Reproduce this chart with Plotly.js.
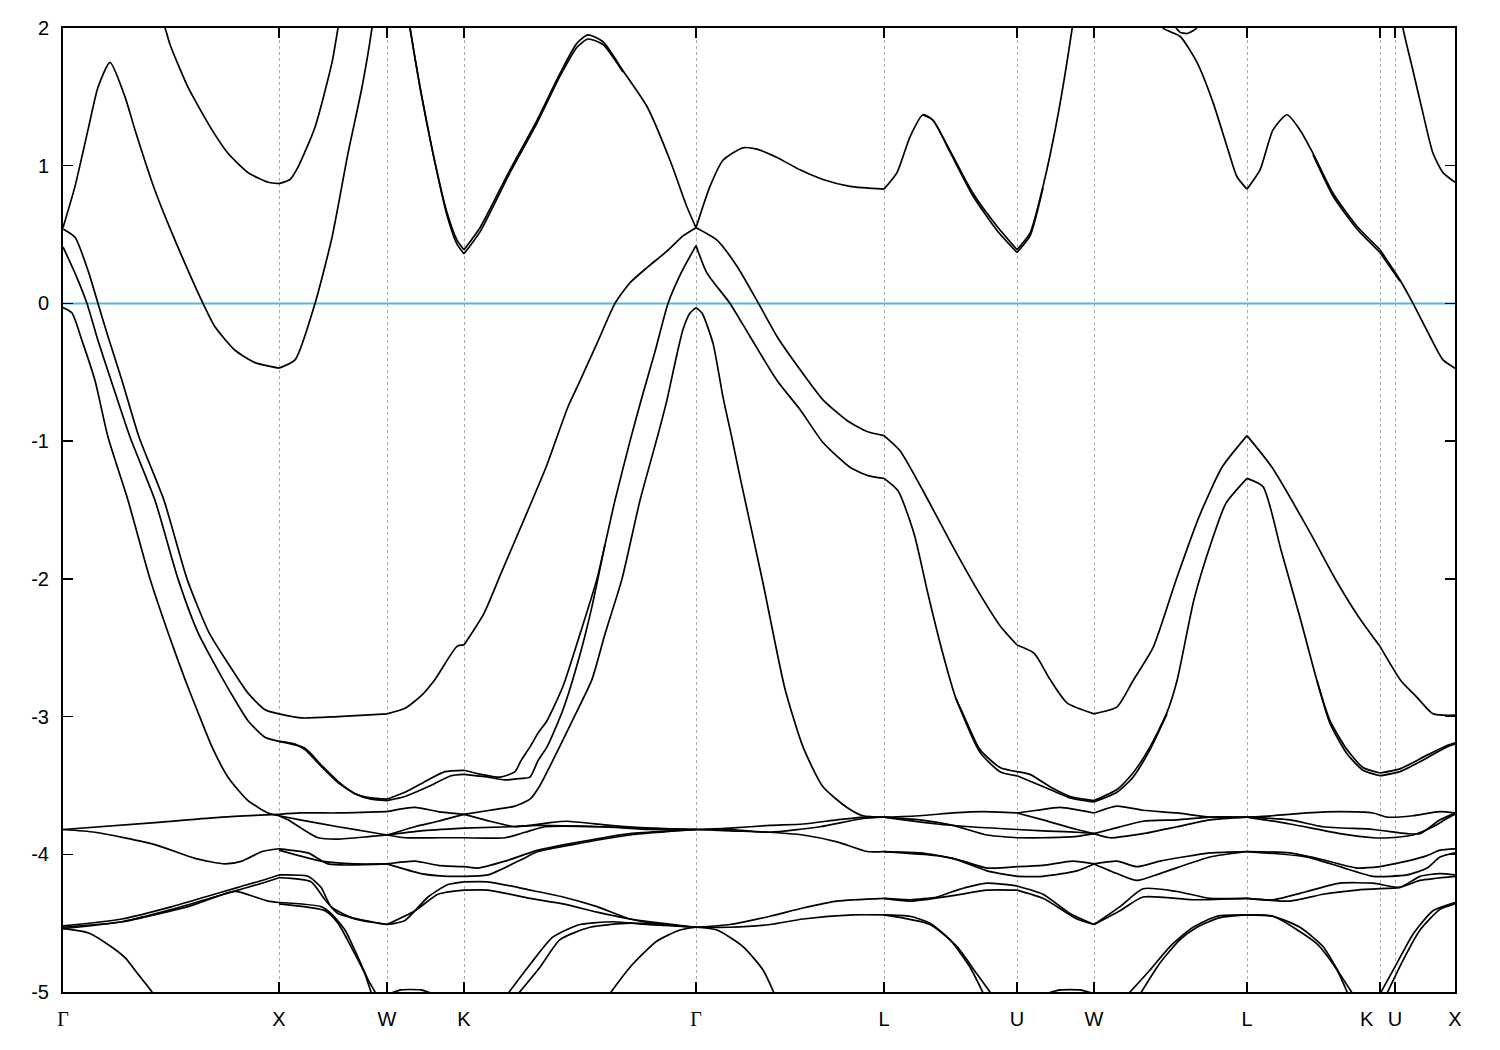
<!DOCTYPE html>
<html>
<head>
<meta charset="utf-8">
<script src="https://cdn.plot.ly/plotly-3.0.1.min.js"></script>
<style>html,body{margin:0;padding:0;background:#fff;}#plot{width:1500px;height:1050px;}</style>
</head>
<body>
<div id="plot"></div>
<script>
// High-symmetry points along the k-path (path length, arbitrary units)
const tickK = [0, 2.16, 3.24, 4.01, 6.33, 8.21, 9.54, 10.31, 11.84, 13.17, 13.32, 13.92];
const tickLabels = ["Γ", "X", "W", "K", "Γ", "L", "U", "W", "L", "K", "U", "X"];
const energyTicks = [-5, -4, -3, -2, -1, 0, 1, 2];
const energyTickText = ["-5", "-4", "-3", "-2", "-1", "0", "1", "2"];
const fermiK = [0, 13.92];
const fermiE = [0, 0];

// Conduction bands
const cbA_k = [0.97,1.02,1.07,1.25,1.49,1.65,1.85,2.05,2.16,2.27,2.35,2.52,2.69,2.75,2.78];
const cbA_E = [2.06,2.0,1.88,1.57,1.26,1.09,0.95,0.88,0.87,0.90,0.99,1.28,1.75,2.0,2.12];
const cbB_k = [0,0.12,0.25,0.35,0.47,0.62,0.72,0.92,1.09,1.25,1.40,1.52,1.72,1.92,2.16,2.32,2.52,2.69,2.85,2.99,3.09,3.11];
const cbB_E = [0.55,0.85,1.26,1.57,1.75,1.50,1.26,0.82,0.51,0.24,0.0,-0.17,-0.34,-0.43,-0.47,-0.41,0.0,0.48,1.09,1.57,2.0,2.12];
const cbC_k = [3.45,3.47,3.57,3.70,3.84,3.94,4.01,4.17,4.47,4.74,4.97,5.14,5.25,5.40,5.60,5.84,6.07,6.24,6.33,6.47,6.60,6.80,6.94,7.14,7.37,7.60,7.87,8.21,8.34,8.47,8.60,8.70,8.87,9.10,9.34,9.54,9.67,9.80,9.94,10.09,10.11];
const cbC_E = [2.1,2.0,1.57,1.09,0.66,0.46,0.39,0.55,0.97,1.33,1.67,1.89,1.95,1.90,1.69,1.43,1.04,0.70,0.55,0.85,1.04,1.13,1.12,1.06,0.97,0.90,0.85,0.83,0.95,1.21,1.37,1.33,1.11,0.80,0.56,0.39,0.51,0.85,1.33,1.99,2.1];
const cbC2_k = [3.45,3.47,3.57,3.70,3.84,3.94,4.01,4.17,4.47,4.74,4.97,5.14,5.25,5.40,5.60];
const cbC2_E = [2.1,2.0,1.57,1.09,0.64,0.43,0.36,0.52,0.95,1.31,1.65,1.86,1.92,1.88,1.68];
const cbC3_k = [8.60,8.70,8.87,9.10,9.34,9.54,9.67,9.80];
const cbC3_E = [1.37,1.33,1.10,0.78,0.53,0.37,0.49,0.84];
const cbD_k = [10.97,11.00,11.17,11.34,11.50,11.64,11.74,11.84,11.97,12.10,12.24,12.37,12.50,12.70,12.94,13.17,13.37,13.50,13.67,13.80,13.92];
const cbD_E = [2.1,2.0,1.94,1.75,1.46,1.14,0.92,0.83,0.97,1.26,1.37,1.26,1.09,0.80,0.56,0.39,0.17,0.0,-0.24,-0.41,-0.47];
const cbD2_k = [12.50,12.70,12.94,13.17,13.37];
const cbD2_E = [1.08,0.78,0.54,0.37,0.16];
const cbE_k = [13.39,13.40,13.50,13.60,13.70,13.80,13.92];
const cbE_E = [2.1,2.0,1.69,1.38,1.09,0.95,0.88];
const cbLoop_k = [11.13,11.17,11.24,11.30,11.34];
const cbLoop_E = [2.0,1.97,1.96,1.98,2.0];

// Valence bands
const vbC_k = [0,0.12,0.25,0.35,0.45,0.59,0.76,1.01,1.24,1.46,1.71,1.85,2.02,2.16,2.39,2.75,3.24,3.42,3.58,3.72,3.94,4.01,4.21,4.38,4.61,4.83,5.05,5.14,5.34,5.52,5.67,5.84,6.04,6.20,6.33,6.54,6.74,6.94,7.14,7.37,7.60,7.84,8.04,8.21,8.37,8.60,8.88,9.16,9.38,9.54,9.71,9.87,10.04,10.31,10.54,10.70,10.90,11.13,11.36,11.59,11.84,12.09,12.46,12.73,12.96,13.17,13.38,13.54,13.70,13.92];
const vbC_E = [0.54,0.48,0.24,0.0,-0.24,-0.56,-0.97,-1.43,-2.0,-2.39,-2.68,-2.83,-2.95,-2.98,-3.01,-3.00,-2.98,-2.94,-2.85,-2.73,-2.49,-2.48,-2.25,-1.96,-1.57,-1.19,-0.75,-0.61,-0.29,0.0,0.15,0.26,0.38,0.49,0.55,0.46,0.27,0.02,-0.24,-0.48,-0.70,-0.85,-0.93,-0.96,-1.07,-1.36,-1.74,-2.10,-2.35,-2.48,-2.54,-2.73,-2.90,-2.98,-2.93,-2.74,-2.50,-2.01,-1.55,-1.19,-0.96,-1.19,-1.65,-2.01,-2.28,-2.49,-2.74,-2.86,-2.98,-2.99];
const vbD_k = [0,0.12,0.24,0.35,0.49,0.67,0.92,1.15,1.35,1.60,1.72,1.85,2.02,2.16,2.32,2.42,2.58,2.75,2.92,3.08,3.24,3.42,3.65,3.82,4.01,4.18,4.37,4.52,4.58,4.67,4.75,4.84,5.00,5.17,5.34,5.52,5.67,5.79,5.92,6.05,6.18,6.33,6.44,6.67,6.87,7.14,7.37,7.60,7.87,8.05,8.21,8.35,8.51,8.65,8.79,8.93,9.00,9.17,9.37,9.54,9.67,9.87,10.07,10.31,10.54,10.70,10.87,11.04,11.14,11.31,11.49,11.63,11.84,12.00,12.18,12.37,12.54,12.67,12.84,13.00,13.17,13.37,13.64,13.84,13.92];
const vbD_E = [0.41,0.22,0.0,-0.27,-0.58,-0.97,-1.43,-2.0,-2.39,-2.73,-2.88,-3.03,-3.15,-3.18,-3.20,-3.24,-3.36,-3.48,-3.56,-3.59,-3.60,-3.55,-3.46,-3.40,-3.39,-3.42,-3.44,-3.40,-3.32,-3.22,-3.12,-3.03,-2.78,-2.40,-2.0,-1.43,-1.0,-0.68,-0.35,0.0,0.22,0.42,0.22,0.0,-0.24,-0.56,-0.77,-1.01,-1.19,-1.25,-1.27,-1.36,-1.67,-2.11,-2.52,-2.87,-2.98,-3.24,-3.37,-3.40,-3.42,-3.51,-3.58,-3.61,-3.53,-3.41,-3.22,-2.97,-2.74,-2.15,-1.72,-1.45,-1.27,-1.33,-1.79,-2.28,-2.74,-3.03,-3.24,-3.37,-3.41,-3.38,-3.28,-3.21,-3.19];
const vbD2_k = [2.16,2.42,2.58,2.75,2.92,3.08,3.24,3.42,3.65,3.88,4.01,4.25,4.42,4.57,4.67,4.75,4.84,5.00,5.17,5.29,5.42];
const vbD2_E = [-3.18,-3.23,-3.35,-3.47,-3.56,-3.60,-3.61,-3.58,-3.51,-3.43,-3.42,-3.44,-3.46,-3.45,-3.44,-3.32,-3.22,-2.95,-2.55,-2.20,-1.75];
const vbD3_k = [8.93,9.17,9.37,9.54,9.87,10.07,10.31,10.54,10.70,10.87,11.04];
const vbD3_E = [-2.87,-3.26,-3.40,-3.43,-3.53,-3.59,-3.62,-3.55,-3.44,-3.24,-2.98];
const vbD4_k = [12.54,12.67,12.84,13.00,13.17,13.37,13.64,13.84,13.92];
const vbD4_E = [-2.74,-3.05,-3.27,-3.39,-3.43,-3.40,-3.30,-3.22,-3.20];
const vbE_k = [0,0.09,0.19,0.32,0.45,0.65,0.87,1.05,1.22,1.35,1.49,1.65,1.85,2.05,2.16,2.37,2.75,3.08,3.24,3.52,3.75,4.01,4.27,4.52,4.67,4.77,4.87,5.10,5.29,5.42,5.59,5.77,5.94,6.04,6.13,6.20,6.27,6.33,6.39,6.50,6.60,6.69,6.77,7.00,7.22,7.40,7.60,7.84,8.00,8.21];
const vbE_E = [-0.03,-0.07,-0.27,-0.56,-0.97,-1.43,-2.0,-2.39,-2.73,-2.97,-3.22,-3.44,-3.61,-3.70,-3.72,-3.75,-3.80,-3.84,-3.86,-3.80,-3.76,-3.71,-3.68,-3.65,-3.60,-3.50,-3.36,-3.02,-2.73,-2.40,-2.0,-1.43,-0.98,-0.70,-0.40,-0.19,-0.07,-0.03,-0.07,-0.29,-0.68,-0.98,-1.26,-2.03,-2.80,-3.22,-3.51,-3.66,-3.72,-3.73];

// d-band manifold (-3.6 ... -5 eV)
const dF1_k = [0,0.92,1.59,2.16,2.37,2.75,3.24,3.52,3.75,4.01,4.27,4.52,4.67,4.87,5.04,5.47,5.87,6.33];
const dF1_E = [-3.82,-3.77,-3.73,-3.71,-3.70,-3.70,-3.69,-3.66,-3.69,-3.71,-3.76,-3.80,-3.79,-3.77,-3.76,-3.79,-3.81,-3.82];
const dF3_k = [2.16,2.25,2.38,2.55,2.75,3.08,3.24,3.42,3.77,4.01,4.42,4.62,4.82,5.37,5.87,6.33];
const dF3_E = [-3.72,-3.75,-3.81,-3.88,-3.89,-3.87,-3.86,-3.88,-3.88,-3.88,-3.88,-3.84,-3.80,-3.80,-3.82,-3.82];
const dF4_k = [3.24,3.58,4.01,4.47,4.75,5.37,6.33];
const dF4_E = [-3.86,-3.83,-3.81,-3.80,-3.79,-3.80,-3.82];
const dG1_k = [0,0.32,0.92,1.32,1.62,1.79,1.99,2.16,2.45,2.65,3.24,3.52,3.75,4.01,4.15,4.42,4.75,5.17,5.67,6.07,6.33];
const dG1_E = [-3.82,-3.84,-3.93,-4.03,-4.07,-4.05,-3.98,-3.96,-3.99,-4.07,-4.07,-4.05,-4.08,-4.09,-4.10,-4.05,-3.97,-3.91,-3.85,-3.83,-3.82];
const dG2_k = [2.16,2.58,2.92,3.24,3.58,3.85,4.01,4.25,4.58,4.75,5.17,5.67,6.33];
const dG2_E = [-3.97,-4.05,-4.07,-4.07,-4.14,-4.16,-4.16,-4.15,-4.04,-3.98,-3.92,-3.86,-3.82];
const dH1_k = [0,0.59,1.09,1.42,1.75,1.99,2.16,2.45,2.58,2.68,2.92,3.24,3.42,3.65,3.85,4.01,4.25,4.67,5.00,5.34,5.67,6.00,6.33];
const dH1_E = [-4.52,-4.47,-4.38,-4.31,-4.24,-4.19,-4.15,-4.16,-4.24,-4.38,-4.47,-4.51,-4.48,-4.31,-4.22,-4.20,-4.20,-4.26,-4.31,-4.38,-4.47,-4.51,-4.53];
const dH2_k = [0,0.59,1.09,1.42,1.75,1.99,2.16,2.48,2.62,2.75,3.24,3.52,3.75,4.01,4.25,4.67,5.00,5.34,5.67,6.33];
const dH2_E = [-4.53,-4.49,-4.40,-4.33,-4.26,-4.21,-4.17,-4.20,-4.33,-4.43,-4.51,-4.41,-4.29,-4.26,-4.26,-4.32,-4.36,-4.42,-4.47,-4.53];
const dI1_k = [0,0.59,1.25,1.72,1.92,2.05,2.16,2.58,2.68,2.82,2.92,3.05,3.12,3.15];
const dI1_E = [-4.54,-4.49,-4.38,-4.27,-4.31,-4.34,-4.35,-4.38,-4.43,-4.55,-4.70,-4.91,-5.0,-5.05];
const dI2_k = [2.16,2.62,2.75,2.88,3.02,3.08,3.11];
const dI2_E = [-4.36,-4.41,-4.50,-4.67,-4.87,-5.0,-5.05];
const dJ_k = [0,0.25,0.42,0.62,0.75,0.89,0.92];
const dJ_E = [-4.54,-4.57,-4.64,-4.75,-4.87,-5.0,-5.05];
const dWb1_k = [3.24,3.38,3.58,3.72];
const dWb1_E = [-5.02,-4.985,-4.985,-5.02];
const dP1_k = [4.42,4.67,4.90,5.17,5.50,5.84,6.33];
const dP1_E = [-5.04,-4.80,-4.60,-4.51,-4.49,-4.51,-4.53];
const dP2_k = [4.52,4.77,4.97,5.27,5.67,6.33];
const dP2_E = [-5.04,-4.82,-4.62,-4.53,-4.50,-4.53];
const dPar_k = [5.44,5.67,5.94,6.17,6.33,6.54,6.80,7.00,7.13];
const dPar_E = [-5.04,-4.82,-4.63,-4.55,-4.53,-4.55,-4.67,-4.84,-5.04];
const dQ1_k = [6.33,6.67,7.07,7.40,7.74,8.00,8.21];
const dQ1_E = [-3.82,-3.81,-3.79,-3.78,-3.75,-3.73,-3.73];
const dQ1b_k = [6.33,6.67,7.07,7.57,8.00,8.21];
const dQ1b_E = [-3.82,-3.82,-3.84,-3.80,-3.74,-3.73];
const dQ2_k = [6.33,6.67,7.07,7.40,7.74,8.04,8.21];
const dQ2_E = [-3.82,-3.83,-3.84,-3.86,-3.91,-3.98,-3.98];
const dR1_k = [6.33,6.67,7.07,7.40,7.74,8.21];
const dR1_E = [-4.53,-4.51,-4.45,-4.39,-4.34,-4.32];
const dR2_k = [6.33,6.67,7.07,7.40,7.90,8.21];
const dR2_E = [-4.53,-4.53,-4.51,-4.47,-4.44,-4.44];
const dS1_k = [8.21,8.57,8.90,9.20,9.54,9.74,9.97,10.31,10.54,10.80,11.14,11.47,11.84,12.10,12.44,12.77,13.10,13.24,13.50,13.77,13.92];
const dS1_E = [-3.73,-3.72,-3.70,-3.69,-3.70,-3.68,-3.66,-3.70,-3.65,-3.68,-3.70,-3.73,-3.73,-3.72,-3.70,-3.69,-3.70,-3.73,-3.72,-3.69,-3.70];
const dS2_k = [8.21,8.57,8.90,9.24,9.54,9.80,10.14,10.31,10.47,10.80,11.14,11.47,11.84,12.27,12.60,13.10,13.44,13.57,13.77,13.92];
const dS2_E = [-3.73,-3.75,-3.79,-3.86,-3.88,-3.88,-3.87,-3.85,-3.82,-3.76,-3.75,-3.73,-3.73,-3.75,-3.80,-3.82,-3.85,-3.85,-3.75,-3.70];
const dS3_k = [9.54,9.80,10.14,10.31,10.47,10.80,11.14,11.47,11.84,12.27,12.77,13.10,13.27,13.50,13.70,13.84,13.92];
const dS3_E = [-3.70,-3.75,-3.82,-3.85,-3.88,-3.85,-3.80,-3.75,-3.73,-3.78,-3.85,-3.88,-3.88,-3.86,-3.80,-3.74,-3.71];
const dS4_k = [8.21,8.74,9.07,9.54,9.80,10.14,10.31];
const dS4_E = [-3.73,-3.78,-3.80,-3.82,-3.83,-3.84,-3.85];
const dU1_k = [8.21,8.40,8.74,9.00,9.24,9.54,9.80,10.10,10.31,10.54,10.74,10.97,11.47,11.84,12.27,12.60,12.94,13.17,13.44,13.64,13.77,13.92];
const dU1_E = [-3.98,-3.99,-4.01,-4.05,-4.10,-4.09,-4.08,-4.05,-4.07,-4.05,-4.09,-4.05,-3.99,-3.98,-3.99,-4.04,-4.10,-4.09,-4.05,-4.01,-3.97,-3.96];
const dU2_k = [8.21,8.57,8.90,9.24,9.54,9.80,10.14,10.31,10.54,10.74,10.97,11.47,11.84,12.44,12.77,13.10,13.44,13.64,13.77,13.92];
const dU2_E = [-3.98,-3.99,-4.03,-4.12,-4.16,-4.16,-4.12,-4.07,-4.14,-4.19,-4.14,-4.02,-3.98,-4.02,-4.09,-4.16,-4.15,-4.10,-4.02,-3.99];
const dV1_k = [8.21,8.47,8.74,8.94,9.24,9.54,9.80,10.07,10.31,10.57,10.80,11.14,11.47,11.84,12.10,12.44,12.77,13.10,13.37,13.57,13.77,13.92];
const dV1_E = [-4.32,-4.33,-4.31,-4.26,-4.21,-4.23,-4.29,-4.43,-4.51,-4.38,-4.25,-4.27,-4.32,-4.32,-4.33,-4.27,-4.21,-4.21,-4.24,-4.16,-4.14,-4.15];
const dV2_k = [8.21,8.47,8.90,9.24,9.54,9.80,10.14,10.31,10.57,10.80,11.30,11.84,12.27,12.60,12.94,13.17,13.37,13.57,13.92];
const dV2_E = [-4.32,-4.34,-4.30,-4.26,-4.26,-4.32,-4.47,-4.51,-4.41,-4.31,-4.33,-4.32,-4.34,-4.29,-4.26,-4.25,-4.24,-4.19,-4.16];
const dW1_k = [8.21,8.47,8.67,8.87,9.07,9.23];
const dW1_E = [-4.44,-4.45,-4.50,-4.62,-4.82,-5.05];
const dW2_k = [8.21,8.67,8.94,9.14,9.32];
const dW2_E = [-4.44,-4.51,-4.67,-4.87,-5.05];
const dW3_k = [10.62,10.87,11.07,11.30,11.54,11.84,12.10,12.37,12.60,12.77,12.93];
const dW3_E = [-5.04,-4.84,-4.67,-4.53,-4.45,-4.44,-4.45,-4.53,-4.67,-4.87,-5.05];
const dW4_k = [10.75,10.97,11.17,11.34,11.57,11.84,12.10,12.54,12.74,12.87];
const dW4_E = [-5.04,-4.79,-4.62,-4.53,-4.46,-4.44,-4.45,-4.65,-4.84,-5.05];
const dW5_k = [13.15,13.34,13.50,13.70,13.92];
const dW5_E = [-5.04,-4.79,-4.58,-4.41,-4.35];
const dW6_k = [13.22,13.40,13.57,13.77,13.92];
const dW6_E = [-5.04,-4.77,-4.55,-4.40,-4.36];
const dWb2_k = [9.80,9.97,10.17,10.34];
const dWb2_E = [-5.02,-4.985,-4.985,-5.02];

const bandLines = [
  [cbA_k, cbA_E], [cbB_k, cbB_E], [cbC_k, cbC_E], [cbC2_k, cbC2_E], [cbC3_k, cbC3_E],
  [cbD_k, cbD_E], [cbD2_k, cbD2_E], [cbE_k, cbE_E], [cbLoop_k, cbLoop_E],
  [vbC_k, vbC_E], [vbD_k, vbD_E], [vbD2_k, vbD2_E], [vbD3_k, vbD3_E], [vbD4_k, vbD4_E], [vbE_k, vbE_E],
  [dF1_k, dF1_E], [dF3_k, dF3_E], [dF4_k, dF4_E], [dG1_k, dG1_E], [dG2_k, dG2_E],
  [dH1_k, dH1_E], [dH2_k, dH2_E], [dI1_k, dI1_E], [dI2_k, dI2_E], [dJ_k, dJ_E], [dWb1_k, dWb1_E],
  [dP1_k, dP1_E], [dP2_k, dP2_E], [dPar_k, dPar_E], [dQ1_k, dQ1_E], [dQ1b_k, dQ1b_E], [dQ2_k, dQ2_E],
  [dR1_k, dR1_E], [dR2_k, dR2_E], [dS1_k, dS1_E], [dS2_k, dS2_E], [dS3_k, dS3_E], [dS4_k, dS4_E],
  [dU1_k, dU1_E], [dU2_k, dU2_E], [dV1_k, dV1_E], [dV2_k, dV2_E],
  [dW1_k, dW1_E], [dW2_k, dW2_E], [dW3_k, dW3_E], [dW4_k, dW4_E], [dW5_k, dW5_E], [dW6_k, dW6_E], [dWb2_k, dWb2_E]
];

// split each band at the high-symmetry points so kinks stay sharp
function splitAtTicks(k, e) {
  const segs = [];
  let cx = [k[0]], cy = [e[0]];
  for (let i = 1; i < k.length; i++) {
    cx.push(k[i]); cy.push(e[i]);
    const isTick = tickK.some(t => Math.abs(t - k[i]) < 1e-6);
    if (isTick && i < k.length - 1) {
      segs.push([cx, cy]);
      cx = [k[i]]; cy = [e[i]];
    }
  }
  if (cx.length > 1) segs.push([cx, cy]);
  return segs;
}

const traces = [{
  x: fermiK, y: fermiE, mode: 'lines', type: 'scatter',
  line: {color: 'rgb(86,180,233)', width: 2}, hoverinfo: 'skip'
}];
bandLines.forEach(([k, e]) => {
  splitAtTicks(k, e).forEach(([sx, sy]) => {
    traces.push({
      x: sx, y: sy, mode: 'lines', type: 'scatter',
      line: {color: '#000', width: 1.7, shape: sx.length > 2 ? 'spline' : 'linear', smoothing: 0.6},
      hoverinfo: 'skip'
    });
  });
});

// The K label next to the close U tick is placed as an annotation nudged left
const crowdedIndex = 9;
const tickTextHtml = tickLabels.map((s, i) => {
  if (i === crowdedIndex) return '';
  if (s === "Γ") return '<span style="font-family:\'Liberation Serif\',serif">Γ</span>';
  return s;
});

const layout = {
  width: 1500, height: 1050,
  margin: {l: 63, r: 45, t: 28, b: 58},
  showlegend: false,
  paper_bgcolor: '#fff', plot_bgcolor: '#fff',
  font: {family: 'Liberation Sans, Arial, sans-serif', size: 20, color: '#000'},
  xaxis: {
    range: [0, 13.92], tickmode: 'array', tickvals: tickK, ticktext: tickTextHtml,
    tickangle: 0, autotickangles: [0], ticklabelstandoff: 8,
    ticks: 'inside', ticklen: 10, tickwidth: 1.5, tickcolor: '#000',
    showline: true, linecolor: '#000', linewidth: 2, mirror: 'ticks',
    showgrid: true, gridcolor: '#aaaaaa', gridwidth: 1, griddash: '3px,3px',
    zeroline: false, tickfont: {size: 20}
  },
  yaxis: {
    range: [-5, 2], tickmode: 'array', tickvals: energyTicks, ticktext: energyTickText,
    ticks: 'inside', ticklen: 10, tickwidth: 1.5, tickcolor: '#000',
    showline: true, linecolor: '#000', linewidth: 2, mirror: 'ticks',
    showgrid: false, zeroline: false, tickfont: {size: 20}, ticklabelstandoff: 8
  },
  annotations: [{
    x: tickK[crowdedIndex], xref: 'x', y: 0, yref: 'paper',
    text: tickLabels[crowdedIndex], showarrow: false,
    xanchor: 'center', yanchor: 'top', xshift: -13, yshift: -14,
    font: {size: 20, color: '#000'}
  }]
};

Plotly.newPlot('plot', traces, layout, {staticPlot: true});
</script>
</body>
</html>
